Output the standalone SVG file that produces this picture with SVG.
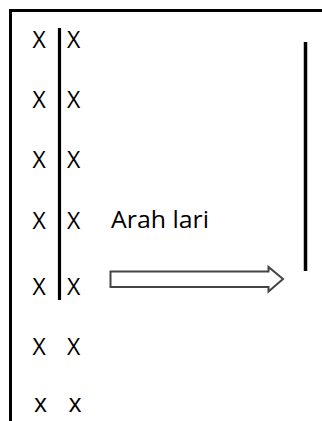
<svg xmlns="http://www.w3.org/2000/svg" width="322" height="421" viewBox="0 0 322 421">
<style>
.x{font-family:"Open Sans","Liberation Sans",sans-serif;font-size:23px;fill:#000}
.ln{stroke:#000;fill:none}
</style>
<rect width="322" height="421" fill="#fff"/>
<g id="frame"><path class="ln" d="M10.5 421V10.5H322" stroke-width="3"/></g>
<g id="connectors">
<line class="ln" x1="59.5" y1="28" x2="59.5" y2="300" stroke-width="3.2"/>
<line class="ln" x1="305.5" y1="42" x2="305.5" y2="271" stroke-width="3.5"/>
<path id="arrow" d="M110.5 271.5H268.5V267L283 279L268.5 291.5V287H110.5Z" fill="#fff" stroke="#444" stroke-width="2"/>
</g>
<g id="rows">
<text class="x" x="32.5" y="48">X</text><text class="x" x="67" y="48">X</text>
<text class="x" x="32.5" y="108">X</text><text class="x" x="67" y="108">X</text>
<text class="x" x="32.5" y="168">X</text><text class="x" x="67" y="168">X</text>
<text class="x" x="32.5" y="229">X</text><text class="x" x="67" y="229">X</text>
<text class="x" x="32.5" y="295">X</text><text class="x" x="67" y="295">X</text>
<text class="x" x="32.5" y="355">X</text><text class="x" x="67" y="355">X</text>
<text class="x" x="34" y="412" style="font-size:25px">x</text><text class="x" x="68.5" y="412" style="font-size:25px">x</text>
</g>
<g id="label"><text class="x" x="111" y="228" textLength="98" lengthAdjust="spacingAndGlyphs">Arah lari</text></g>
</svg>
